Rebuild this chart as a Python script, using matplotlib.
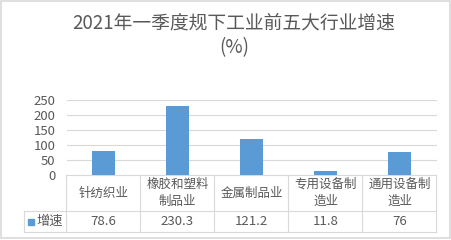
import matplotlib.pyplot as plt

plt.rcParams['font.family'] = ['Noto Sans CJK SC', 'DejaVu Sans']

# 数据
categories = ['针纺织业', '橡胶和塑料\n制品业', '金属制品业', '专用设备制\n造业', '通用设备制\n造业']
values = [78.6, 230.3, 121.2, 11.8, 76]
labels = ['78.6', '230.3', '121.2', '11.8', '76']
series_name = '增速'

bar_color = '#5B9BD5'
text_color = '#595959'
line_color = '#D9D9D9'

W, H = 452, 240
fig = plt.figure(figsize=(W / 100, H / 100), dpi=100)

# 绘图区（像素）
x0, x1 = 66.5, 436.5
y_top, y_axis = 100, 175
row1, row2 = 211, 232
leg_x = 24

ax = fig.add_axes([x0 / W, 1 - y_axis / H, (x1 - x0) / W, (y_axis - y_top) / H])
ax.bar(range(len(values)), values, width=0.31, color=bar_color, zorder=3)
ax.set_xlim(-0.5, len(values) - 0.5)
ax.set_ylim(0, 250)
ax.set_yticks(range(0, 251, 50))
ax.yaxis.grid(True, color=line_color, linewidth=0.8, zorder=0)
ax.set_xticks([])
for s in ax.spines.values():
    s.set_visible(False)
ax.tick_params(axis='y', length=0, labelsize=9.5, labelcolor=text_color, pad=8)

# 数据表（像素坐标）
tab = fig.add_axes([0, 0, 1, 1], zorder=-1)
tab.set_xlim(0, W)
tab.set_ylim(H, 0)
tab.axis('off')

# 外框
tab.add_patch(plt.Rectangle((1, 1), W - 3, H - 3, fill=False, edgecolor='#D9D9D9', linewidth=1.2))

n = len(categories)
cw = (x1 - x0) / n
lw = 0.8
tab.plot([x0, x1], [y_axis, y_axis], color=line_color, lw=lw)
tab.plot([leg_x, x1], [row1, row1], color=line_color, lw=lw)
tab.plot([leg_x, x1], [row2, row2], color=line_color, lw=lw)
tab.plot([leg_x, leg_x], [row1, row2], color=line_color, lw=lw)
for i in range(n + 1):
    xb = x0 + i * cw
    tab.plot([xb, xb], [y_axis, row2], color=line_color, lw=lw)

for i, (c, lab) in enumerate(zip(categories, labels)):
    xc = x0 + (i + 0.5) * cw
    tab.text(xc, (y_axis + row1) / 2, c, ha='center', va='center', fontsize=9,
             color=text_color, linespacing=1.4)
    tab.text(xc, (row1 + row2) / 2, lab, ha='center', va='center', fontsize=9.5,
             color=text_color)

# 图例
tab.add_patch(plt.Rectangle((leg_x + 4, (row1 + row2) / 2 - 3), 6, 6, color=bar_color))
tab.text(leg_x + 12, (row1 + row2) / 2, series_name, ha='left', va='center',
         fontsize=9.5, color=text_color)

# 标题
tab.text(234, 23, '2021年一季度规下工业前五大行业增速', ha='center', va='center',
         fontsize=13.5, color=text_color)
tab.text(234, 48, '(%)', ha='center', va='center', fontsize=13.5, color=text_color)

fig.savefig('out.png', dpi=100)
